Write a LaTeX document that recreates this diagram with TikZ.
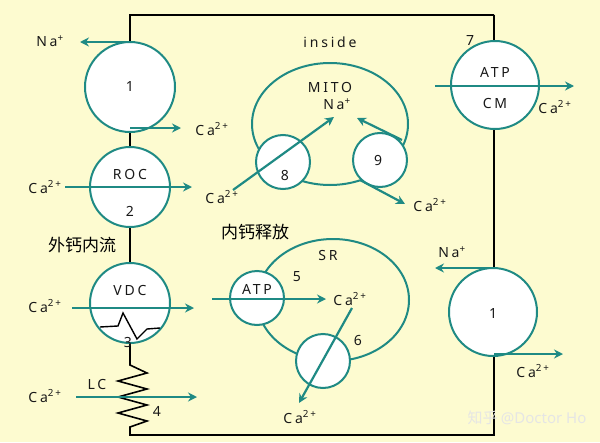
\documentclass[tikz,border=0pt]{standalone}
\usepackage{fontspec}
\setmainfont[LetterSpace=20]{Noto Sans}
\newfontfamily\cjk{Noto Sans CJK SC}
\newfontfamily\wm{Noto Sans}
\usetikzlibrary{arrows.meta}
\definecolor{bg}{HTML}{FDFBD0}
\definecolor{teal}{HTML}{1F8A84}
\newcommand{\caion}{Ca\textsuperscript{2+}}
\newcommand{\naion}{Na\textsuperscript{+}}
\tikzset{
 chan/.style={circle,draw=teal,line width=2pt,fill=white,inner sep=0pt},
 flow/.style={draw=teal,line width=2.2pt,-{Stealth[length=9pt,width=9pt]}},
 memb/.style={draw=teal,line width=2pt},
 lbl/.style={font=\fontsize{14}{14}\selectfont,inner sep=1pt,text=black!90},
 wall/.style={draw=black,line width=1.6pt}
}
\begin{document}
\begin{tikzpicture}[x=1pt,y=-1pt]
\useasboundingbox[fill=bg] (0,0) rectangle (600,442);
% walls
\coordinate (tl) at (130,15); \coordinate (tr) at (494,15);
\coordinate (bl) at (130,435); \coordinate (br) at (494,435);
\coordinate (rs) at (130,365); \coordinate (re) at (130,427);
\draw[wall] (tr) -- (tl) -- (rs)
  -- (147,373) -- (118,381) -- (147,389) -- (118,397) -- (147,405) -- (118,413) -- (147,421) -- (re) -- (bl) -- (br) -- (tr);
% compartments
\draw[memb] (330,124) ellipse[x radius=78,y radius=61];
\draw[memb] (333,300) ellipse[x radius=76,y radius=61];
% channels
\node[chan,minimum size=90pt] (c1) at (130,87) {};
\node[chan,minimum size=80pt] (c2) at (130,187) {};
\node[chan,minimum size=80pt] (c3) at (130,303) {};
\node[chan,minimum size=88pt] (c7) at (495,85) {};
\node[chan,minimum size=88pt] (c1r) at (493,312) {};
\node[chan,minimum size=54pt] (c8) at (283,162) {};
\node[chan,minimum size=54pt] (c9) at (380,160) {};
\node[chan,minimum size=54pt] (c5) at (257,298) {};
\node[chan,minimum size=54pt] (c6) at (323,361) {};
% labels in channels
\node[lbl] (t1) at (130,87) {1};
\node[lbl] (t2a) at (130,174) {ROC};
\node[lbl] (t2b) at (130,211) {2};
\node[lbl] (t3a) at (130,290) {VDC};
\node[lbl] (t3b) at (128,342) {3};
\node[lbl] (t7a) at (495,72) {ATP};
\node[lbl] (t7b) at (495,104) {CM};
\node[lbl] (t7) at (470,41) {7};
\node[lbl] (t1r) at (493,313) {1};
\node[lbl] (t8) at (285,175) {8};
\node[lbl] (t9) at (378,160) {9};
\node[lbl] (t5a) at (257,289) {ATP};
\node[lbl] (t5) at (297,277) {5};
\node[lbl] (t6) at (358,340) {6};
\node[lbl] (tLC) at (97,384) {LC};
\node[lbl] (t4) at (157,411) {4};
\node[lbl] (tin) at (330,42) {inside};
\node[lbl] (tmito) at (330,87) {MITO};
\node[lbl] (tsr) at (328,255) {SR};
% ECG squiggle
\draw[line width=1.4pt] (100,327) -- (118,326) -- (123,313) -- (137,339) -- (147,329) -- (160,328);
% ion labels
\node[lbl] (na1) at (50,41) {\naion};
\node[lbl] (ca1) at (212,129) {\caion};
\node[lbl] (ca2l) at (45,187) {\caion};
\node[lbl] (ca2r) at (222,197) {\caion};
\node[lbl] (ca3l) at (45,306) {\caion};
\node[lbl] (ca4l) at (45,396) {\caion};
\node[lbl] (namito) at (337,104) {\naion};
\node[lbl] (ca9) at (430,205) {\caion};
\node[lbl] (ca7) at (555,107) {\caion};
\node[lbl] (na1r) at (452,252) {\naion};
\node[lbl] (ca1r) at (533,371) {\caion};
\node[lbl] (ca5) at (350,299) {\caion};
\node[lbl] (ca6) at (300,417) {\caion};
\node[font=\cjk\fontsize{17}{17}\selectfont] (wai) at (82,245) {外钙内流};
\node[font=\cjk\fontsize{17}{17}\selectfont] (nei) at (255,232) {内钙释放};
\node[font=\fontsize{15}{15}\selectfont,text=white!80!gray] (wmk) at (527,418) {\cjk 知乎 \wm @Doctor Ho};
% arrows
\coordinate (a1s) at (130,42); \coordinate (a1e) at (80,42);
\draw[flow] (a1s) -- (a1e);
\coordinate (b1s) at (130,128); \coordinate (b1e) at (181,128);
\draw[flow] (b1s) -- (b1e);
\coordinate (a2s) at (65,187); \coordinate (a2e) at (192,187);
\draw[flow] (a2s) -- (a2e);
\coordinate (a3s) at (72,308); \coordinate (a3e) at (194,308);
\draw[flow] (a3s) -- (a3e);
\coordinate (a4s) at (76,397); \coordinate (a4e) at (197,397);
\draw[flow] (a4s) -- (a4e);
\coordinate (a8s) at (233,190); \coordinate (a8e) at (334,117);
\draw[flow] (a8s) -- (a8e);
\coordinate (a9s) at (402,140); \coordinate (a9e) at (357,118);
\draw[flow] (a9s) -- (a9e);
\coordinate (b9s) at (360,180); \coordinate (b9e) at (405,204);
\draw[flow] (b9s) -- (b9e);
\coordinate (a7s) at (435,86); \coordinate (a7e) at (574,86);
\draw[flow] (a7s) -- (a7e);
\coordinate (a1rs) at (494,268); \coordinate (a1re) at (435,268);
\draw[flow] (a1rs) -- (a1re);
\coordinate (b1rs) at (494,354); \coordinate (b1re) at (563,354);
\draw[flow] (b1rs) -- (b1re);
\coordinate (a5s) at (212,299); \coordinate (a5e) at (326,299);
\draw[flow] (a5s) -- (a5e);
\coordinate (a6s) at (352,308); \coordinate (a6e) at (299,403);
\draw[flow] (a6s) -- (a6e);
\end{tikzpicture}
\end{document}
